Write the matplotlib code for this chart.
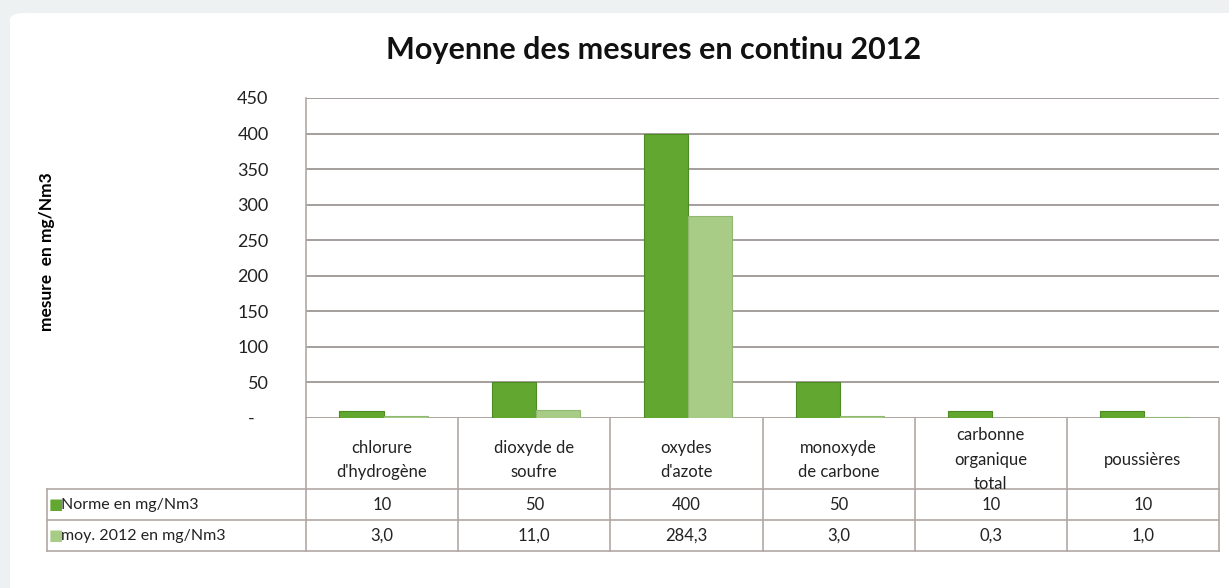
import numpy as np
import matplotlib.pyplot as plt
import matplotlib.transforms as mtransforms
from matplotlib.patches import FancyBboxPatch

# Data
categories = ["chlorure\nd'hydrogène", "dioxyde de\nsoufre", "oxydes\nd'azote",
              "monoxyde\nde carbone", "carbonne\norganique\ntotal", "poussières"]
norme = [10, 50, 400, 50, 10, 10]
moy_2012 = [3.0, 11.0, 284.3, 3.0, 0.3, 1.0]
series_labels = ["Norme en mg/Nm3", "moy. 2012 en mg/Nm3"]
yticks = [0, 50, 100, 150, 200, 250, 300, 350, 400, 450]

plt.rcParams['font.family'] = ['Lato', 'DejaVu Sans']

col_norme = '#62a72f'
col_moy = '#a8cc86'
line_col = '#b0a8a4'

fig = plt.figure(figsize=(12.29, 5.88), dpi=100)
fig.patch.set_facecolor('#eef1f2')

# white chart background card
card = FancyBboxPatch((10 / 1229, -0.05), 1.1, 1 - 13 / 588 + 0.05,
                      boxstyle='round,pad=0,rounding_size=0.012',
                      transform=fig.transFigure, facecolor='white',
                      edgecolor='none', zorder=-10)
fig.patches.append(card)

ax = fig.add_axes([306 / 1229, 1 - 418 / 588, 913 / 1229, 320 / 588])
ax.set_facecolor('none')

x = np.arange(len(categories))
w = 0.29
ax.bar(x - w / 2 + 0.01, norme, w, color=col_norme, edgecolor='#4c8a24', linewidth=0.8, zorder=3)
ax.bar(x + w / 2 + 0.01, moy_2012, w, color=col_moy, edgecolor='#90b870', linewidth=0.8, zorder=3)

ax.set_xlim(-0.5, len(categories) - 0.5)
ax.set_ylim(0, 450)
ax.set_yticks(yticks)
ax.set_yticklabels(['-   '] + [str(v) for v in yticks[1:]], fontsize=13, color='#222222')
ax.tick_params(axis='y', length=0, pad=27)
ax.set_xticks([])
ax.yaxis.grid(True, color='#a49e9c', linewidth=1.4, zorder=0)
for s in ['top', 'right', 'bottom']:
    ax.spines[s].set_visible(False)
ax.spines['left'].set_color(line_col)
ax.spines['left'].set_linewidth(1.2)
ax.axhline(0, color=line_col, linewidth=1.2, zorder=2)

ax.set_ylabel('mesure  en mg/Nm3', fontsize=12.5, fontweight='bold')
ax.yaxis.set_label_coords(-0.275, 0.52)

fig.text(654 / 1229, 1 - 50 / 588, 'Moyenne des mesures en continu 2012',
         ha='center', va='center', fontsize=22, fontweight='bold', color='#111111')

# Data table beneath the chart
trans = mtransforms.blended_transform_factory(ax.transData, ax.transAxes)
y_head = -0.222
y_row1 = -0.319
y_bot = -0.416
x_left = -2.2
x_right = len(categories) - 0.5
lk = dict(color=line_col, linewidth=1.2, transform=trans, clip_on=False)

# vertical separators
for xi in np.arange(-0.5, len(categories), 1.0):
    ax.plot([xi, xi], [0, y_bot], **lk)
ax.plot([x_left, x_left], [y_head, y_bot], **lk)
# horizontal lines
ax.plot([x_left, x_right], [y_head, y_head], **lk)
ax.plot([x_left, x_right], [y_row1, y_row1], **lk)
ax.plot([x_left, x_right], [y_bot, y_bot], **lk)

for xi, cat in zip(x, categories):
    ax.text(xi, y_head / 2 - 0.02, cat, ha='center', va='center', fontsize=12,
            color='#222222', transform=trans, linespacing=1.65)

rows = [norme, [f"{v:.1f}".replace('.', ',') for v in moy_2012]]
row_y = [(y_head + y_row1) / 2, (y_row1 + y_bot) / 2]
for vals, ry, lab, c in zip(rows, row_y, series_labels, [col_norme, col_moy]):
    for xi, v in zip(x, vals):
        ax.text(xi, ry, str(v), ha='center', va='center', fontsize=12,
                color='#222222', transform=trans)
    ax.text(x_left + 0.01, ry, '■', ha='left', va='center', fontsize=11,
            color=c, family='DejaVu Sans', transform=trans)
    ax.text(x_left + 0.09, ry, lab, ha='left', va='center', fontsize=11.5,
            color='#222222', transform=trans)

plt.savefig('out.png', dpi=100, facecolor=fig.get_facecolor())
